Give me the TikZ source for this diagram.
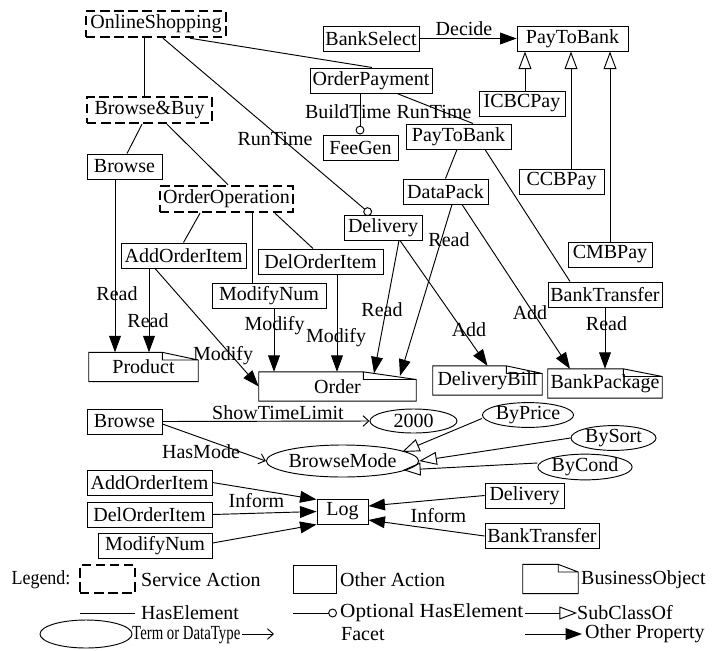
\documentclass[tikz,border=0pt]{standalone}
\usepackage{fontspec}
\setmainfont{Liberation Serif}
\usetikzlibrary{arrows.meta,shapes.geometric,calc}

\tikzset{
  act/.style={draw, line width=0.8pt, minimum width=#1*0.85pt, minimum height=21.3pt, inner xsep=1pt, inner ysep=0.5pt},
  svc/.style={draw, line width=2.2pt, dash pattern=on 8pt off 4pt, minimum width=#1*0.85pt, minimum height=22pt, inner xsep=1pt, inner ysep=0.5pt},
  term/.style 2 args={ellipse, draw, line width=0.8pt, minimum width=#1*0.85pt, minimum height=#2*0.85pt, inner sep=0pt},
  bizobj/.style 2 args={minimum width=#1*0.85pt, minimum height=24.5pt, inner sep=1pt,
    append after command={\pgfextra{\draw[line width=0.8pt]
      ([xshift=-#2]\tikzlastnode.north east) -- (\tikzlastnode.north west) -- (\tikzlastnode.south west)
      -- (\tikzlastnode.south east) -- ([yshift=-6.5pt]\tikzlastnode.north east)
      -- ([xshift=-#2]\tikzlastnode.north east) -- ([xshift=-#2,yshift=-6.5pt]\tikzlastnode.north east)
      -- ([yshift=-6.5pt]\tikzlastnode.north east);}}},
  lbl/.style={inner sep=0pt},
  has/.style={line width=0.8pt},
  opt/.style={line width=0.8pt, -{Circle[open,length=7.5pt]}},
  sub/.style={line width=0.8pt, -{Triangle[open,length=15pt,width=11pt]}},
  facet/.style={line width=0.8pt, -{Straight Barb[length=5pt,width=9pt]}},
  prop/.style={line width=0.8pt, -{Triangle[length=14pt,width=10pt]}},
}

\begin{document}
\begin{tikzpicture}[x=0.85pt, y=-0.85pt, font=\fontsize{17}{19}\selectfont]
        \useasboundingbox (0,0) rectangle (712,650);

        % Acciones de servicio y acciones de la parte superior
        \node[svc=140] (online) at (156,24) {OnlineShopping};
        \node[act=96] (bankselect) at (371,38.5) {BankSelect};
        \node[act=111] (paytobank) at (572.5,38.5) {PayToBank};
        \node[act=122] (orderpay) at (371,80.5) {OrderPayment};
        \node[act=86] (icbc) at (522,103.5) {ICBCPay};
        \node[svc=125] (browsebuy) at (149.5,110) {Browse\&Buy};
        \node[act=105] (paytobankb) at (458.5,136.5) {PayToBank};
        \node[act=75] (feegen) at (360.5,147.5) {FeeGen};
        \node[act=75] (browse) at (124.5,166.5) {Browse};
        \node[act=85] (ccb) at (561.5,181.5) {CCBPay};
        \node[act=85] (datapack) at (445.5,191.5) {DataPack};
        \node[svc=133] (orderop) at (226.5,199) {OrderOperation};
        \node[act=78] (delivery) at (383,227.5) {Delivery};
        \node[act=84] (cmb) at (610,254.5) {CMBPay};
        \node[act=125] (addorder) at (183.5,255.5) {AddOrderItem};
        \node[act=125] (delorder) at (320.5,261.5) {DelOrderItem};
        \node[act=114] (modnum) at (269,295.5) {ModifyNum};
        \node[act=114] (banktransfer) at (605,294.5) {BankTransfer};

        % Objetos de negocio
        \node[bizobj={109}{30.5pt}] (product) at (143.5,367) {Product};
        \node[bizobj={157}{45pt}] (order) at (337.5,386.5) {Order};
        \node[bizobj={109}{30.5pt}] (deliverybill) at (487.5,380.5) {DeliveryBill};
        \node[bizobj={114}{33pt}] (bankpackage) at (605,383.5) {BankPackage};

        % HasElement y HasElement opcional
        \draw[has] ($(online.south)+(-12,0)$) -- ($(browsebuy.north)+(-5.5,0)$);
        \draw[has] ($(online.south)+(34,0)$) -- ($(orderpay.north)+(1,0)$);
        \draw[opt] ($(online.south)+(7,0)$) -- ($(delivery.north)+(-12,0)$);
        \draw[opt] ($(orderpay.south)+(-11,0)$) -- ($(feegen.north)+(-0.5,0)$);
        \draw[has] ($(orderpay.south)+(26,0)$) -- ($(paytobankb.north)+(14.5,0)$);
        \draw[has] ($(paytobankb.south)+(-1.5,0)$) -- (datapack.north);
        \draw[has] ($(paytobankb.south)+(26.5,0)$) -- ($(banktransfer.north)+(-35,0)$);
        \draw[has] ($(browsebuy.south)+(-7.5,0)$) -- ($(browse.north)+(2.5,0)$);
        \draw[has] ($(browsebuy.south)+(17.5,0)$) -- ($(orderop.north)+(1.5,0)$);
        \draw[has] ($(orderop.south)+(-26.5,0)$) -- (addorder.north);
        \draw[has] ($(orderop.south)+(25.5,0)$) -- ($(modnum.north)+(-17,0)$);
        \draw[has] ($(orderop.south)+(48.5,0)$) -- ($(delorder.north)+(-7.5,0)$);
        \node[lbl] (lrunl) at (275,139) {RunTime};
        \node[lbl] (lbuild) at (348,111.5) {BuildTime};
        \node[lbl] (lrunr) at (434,112) {RunTime};

        % SubClassOf
        \draw[sub] ($(icbc.north)+(3,0)$) -- ($(paytobank.south)+(-47.5,0)$);
        \draw[sub] ($(ccb.north)+(9.5,0)$) -- ($(paytobank.south)+(-1.5,0)$);
        \draw[sub] (cmb.north) -- ($(paytobank.south)+(37.5,0)$);

        % Otras propiedades
        \draw[prop] (bankselect.east) -- (paytobank.west);
        \node[lbl] (ldecide) at (464,29) {Decide};
        \draw[prop] ($(browse.south)+(-9.5,0)$) -- ($(product.north)+(-28.5,0)$);
        \node[lbl] (lread1) at (117,293.5) {Read};
        \draw[prop] ($(addorder.south)+(-34.5,0)$) -- ($(product.north)+(5.5,0)$);
        \node[lbl] (lread2) at (148,321) {Read};
        \draw[prop] ($(addorder.south)+(-28.5,0)$) -- (order.west);
        \node[lbl] (lmod1) at (223,356) {Modify};
        \draw[prop] ($(modnum.south)+(5,0)$) -- ($(order.north)+(-63.5,0)$);
        \node[lbl] (lmod2) at (274.5,326) {Modify};
        \draw[prop] ($(delorder.south)+(16.5,0)$) -- ($(order.north)+(-0.5,0)$);
        \node[lbl] (lmod3) at (336,338) {Modify};
        \draw[prop] ($(delivery.south)+(16,0)$) -- ($(order.north)+(36.5,1.5)$);
        \node[lbl] (lread3) at (382,310) {Read};
        \draw[prop] ($(datapack.south)+(6.5,0)$) -- ($(order.north)+(62.5,4)$);
        \node[lbl] (lread4) at (449,240) {Read};
        \draw[prop] ($(delivery.south)+(17,0)$) -- (deliverybill.north);
        \node[lbl] (ladd1) at (469,329.5) {Add};
        \draw[prop] ($(datapack.south)+(16.5,0)$) -- ($(bankpackage.north)+(-35,0)$);
        \node[lbl] (ladd2) at (530,312.5) {Add};
        \draw[prop] (banktransfer.south) -- (bankpackage.north);
        \node[lbl] (lread5) at (606.5,323.5) {Read};

        % Parte inferior: facetas y registro
        \node[act=75] (browseb) at (124.5,421.5) {Browse};
        \node[term={87}{24}] (limit) at (413.5,421) {2000};
        \node[term={141}{32}] (browsemode) at (342.5,461) {BrowseMode};
        \node[term={86}{22}] (byprice) at (528,415) {ByPrice};
        \node[term={85}{22}] (bysort) at (613.5,438) {BySort};
        \node[term={86}{22}] (bycond) at (585,467) {ByCond};
        \node[act=51] (log) at (342.5,511.5) {Log};
        \node[act=125] (addorderb) at (149.5,482.5) {AddOrderItem};
        \node[act=125] (delorderb) at (149.5,514.5) {DelOrderItem};
        \node[act=114] (modnumb) at (155,545.5) {ModifyNum};
        \node[act=79] (deliveryb) at (524.5,495.5) {Delivery};
        \node[act=114] (banktransferb) at (542,536) {BankTransfer};

        \draw[facet] (browseb.east) -- (limit.west);
        \node[lbl] (lshow) at (278,413) {ShowTimeLimit};
        \draw[facet] ($(browseb.east)+(0,2.5)$) -- (browsemode.west);
        \node[lbl] (lmode) at (201,451.5) {HasMode};
        \draw[sub] ($(byprice.west)+(0,3.5)$) -- ($(browsemode.center)+(59.5,-9)$);
        \draw[sub] (bysort.west) -- (browsemode.east);
        \draw[sub] ($(bycond.west)+(0,-4)$) -- ($(browsemode.center)+(60.5,9)$);

        \draw[prop] (addorderb.east) -- ($(log.north west)+(0,1)$);
        \draw[prop] (delorderb.east) -- (log.west);
        \draw[prop] ($(modnumb.east)+(0,-2.5)$) -- (log.south west);
        \node[lbl] (linforml) at (256.5,500.5) {Inform};
        \draw[prop] (deliveryb.west) -- ($(log.east)+(0,-5.5)$);
        \draw[prop] (banktransferb.west) -- ($(log.east)+(0,8.5)$);
        \node[lbl] (linformr) at (438.5,515.5) {Inform};

        % Leyenda
        \node[lbl] (legend) at (41,580) {\scalebox{0.9}[1]{Legend:}};
        \node[svc=55, minimum height=23.8pt] (legsvc) at (107.5,579) {};
        \node[lbl, anchor=west] (legsvct) at (141,580) {Service Action};
        \node[act=43, minimum height=23.8pt] (legact) at (314.5,579) {};
        \node[lbl, anchor=west] (legactt) at (340,580) {Other Action};
        \node[bizobj={55}{17pt}] (legbo) at (550.5,579) {};
        \node[lbl, anchor=west] (legbot) at (581,580) {BusinessObject};

        \coordinate (h1) at (80,613);
        \coordinate (h2) at (135,613);
        \draw[has] (h1) -- (h2);
        \node[lbl, anchor=west] (leghas) at (141,613) {HasElement};
        \coordinate (o1) at (293,613);
        \coordinate (o2) at (337,613);
        \draw[opt] (o1) -- (o2);
        \node[lbl, anchor=west] (legopt) at (340,613) {\scalebox{1.06}[1]{Optional HasElement}};
        \coordinate (s1) at (525,613);
        \coordinate (s2) at (577,613);
        \draw[sub] (s1) -- (s2);
        \node[lbl, anchor=west] (legsub) at (577,613) {SubClassOf};

        \node[term={92}{28}] (legterm) at (86,634) {};
        \node[lbl, anchor=west] (legtermt) at (132,635) {\scalebox{0.74}[1]{Term or DataType}};
        \coordinate (f1) at (242,634);
        \coordinate (f2) at (274,634);
        \draw[facet] (f1) -- (f2);
        \node[lbl, anchor=west] (legfacet) at (341,634) {Facet};
        \coordinate (p1) at (525,634);
        \coordinate (p2) at (582,634);
        \draw[prop] (p1) -- (p2);
        \node[lbl, anchor=west] (legprop) at (585,634) {Other Property};
    \end{tikzpicture}
\end{document}
